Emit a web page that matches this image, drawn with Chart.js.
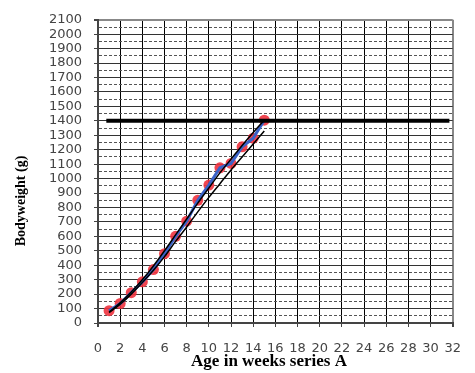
<!DOCTYPE html>
<html>
<head>
<meta charset="utf-8">
<script src="https://cdn.jsdelivr.net/npm/chart.js@4"></script>
<style>
  html, body { margin: 0; padding: 0; background: #fff; }
  canvas { display: block; }
</style>
</head>
<body>
<canvas id="chart" width="475" height="373"></canvas>
<script>
// valores
const semanas = [1, 2, 3, 4, 5, 6, 7, 8, 9, 10, 11, 12, 13, 14, 15];
const pesoCorporal = [85, 135, 210, 285, 370, 480, 600, 705, 850, 955, 1075, 1105, 1220, 1280, 1405];
const tendenciaA = [75, 140, 215, 300, 395, 500, 610, 720, 830, 935, 1040, 1135, 1230, 1320, 1405];
const tendenciaB = [72, 130, 200, 280, 365, 460, 565, 665, 770, 870, 965, 1060, 1150, 1240, 1330];
const linhaRefX = [0.75, 31.7];
const linhaRefY = 1400;

const xTickLabels = [0, 2, 4, 6, 8, 10, 12, 14, 16, 18, 20, 22, 24, 26, 28, 30, 32];
const yTickLabels = [0, 100, 200, 300, 400, 500, 600, 700, 800, 900, 1000, 1100, 1200, 1300, 1400, 1500, 1600, 1700, 1800, 1900, 2000, 2100];

const tituloX = 'Age in weeks series A';
const tituloY = 'Bodyweight (g)';

function pontos(xs, ys) {
  return xs.map((x, i) => ({ x: x, y: ys[i] }));
}

// ticks do eixo y: rotulos a cada 100 e linhas tracejadas no meio
function ticksY() {
  const out = [];
  yTickLabels.forEach((v, i) => {
    out.push({ value: v, major: true });
    if (i < yTickLabels.length - 1) out.push({ value: (v + yTickLabels[i + 1]) / 2, major: false });
  });
  return out;
}

const titulosEixos = {
  id: 'titulosEixos',
  afterDraw(chart) {
    const ctx = chart.ctx;
    ctx.save();
    ctx.fillStyle = '#000';
    ctx.textAlign = 'center';
    ctx.textBaseline = 'middle';
    ctx.font = 'bold 17px "Liberation Serif"';
    ctx.fillText(tituloX, 269, 362);
    ctx.translate(21, 201);
    ctx.rotate(-Math.PI / 2);
    ctx.font = 'bold 14px "Liberation Serif"';
    ctx.fillText(tituloY, 0, 0);
    ctx.restore();
  }
};

const ctx = document.getElementById('chart').getContext('2d');
new Chart(ctx, {
  type: 'scatter',
  data: {
    datasets: [
      {
        label: 'ref',
        data: pontos(linhaRefX, [linhaRefY, linhaRefY]),
        showLine: true,
        borderColor: '#000',
        borderWidth: 4,
        pointRadius: 0,
        order: 0
      },
      {
        label: 'tendencia A',
        data: pontos(semanas, tendenciaA),
        showLine: true,
        borderColor: '#000',
        borderWidth: 1.5,
        pointRadius: 0,
        cubicInterpolationMode: 'monotone',
        order: 1
      },
      {
        label: 'tendencia B',
        data: pontos(semanas, tendenciaB),
        showLine: true,
        borderColor: '#000',
        borderWidth: 1.5,
        pointRadius: 0,
        cubicInterpolationMode: 'monotone',
        order: 2
      },
      {
        label: 'linha',
        data: pontos(semanas, pesoCorporal),
        showLine: true,
        borderColor: '#3a62c8',
        borderWidth: 3,
        pointRadius: 0,
        order: 3
      },
      {
        label: 'Bodyweight',
        data: pontos(semanas, pesoCorporal),
        showLine: false,
        pointRadius: 5.5,
        pointBackgroundColor: 'rgba(238, 50, 62, 0.9)',
        pointBorderWidth: 0,
        order: 4
      }
    ]
  },
  options: {
    responsive: false,
    animation: false,
    layout: { padding: { top: 14, right: 14, left: 0, bottom: 0 } },
    plugins: {
      legend: { display: false },
      tooltip: { enabled: false }
    },
    scales: {
      x: {
        type: 'linear',
        min: 0,
        max: 32,
        afterBuildTicks: (scale) => { scale.ticks = xTickLabels.map(v => ({ value: v })); },
        afterFit: (scale) => { scale.height = 50; },
        ticks: {
          autoSkip: false,
          maxRotation: 0,
          padding: 14,
          color: '#444',
          font: { family: '"DejaVu Sans"', size: 13 }
        },
        grid: {
          color: (c) => c.index === xTickLabels.length - 1 ? '#888' : (c.index === 0 ? '#444' : '#000'),
          lineWidth: (c) => c.index === 0 || c.index === xTickLabels.length - 1 ? 2 : 1,
          tickLength: 4,
          tickColor: '#444'
        },
        border: { color: '#444', width: 2 }
      },
      y: {
        type: 'linear',
        min: 0,
        max: 2100,
        afterBuildTicks: (scale) => { scale.ticks = ticksY(); },
        afterFit: (scale) => { scale.width = 98; },
        ticks: {
          autoSkip: false,
          padding: 12,
          color: '#444',
          font: { family: '"DejaVu Sans"', size: 13 },
          callback: (v) => (v % 100 === 0 ? String(v) : '')
        },
        grid: {
          color: (c) => {
            if (c.tick && c.tick.value === 2100) return '#888';
            return c.tick && c.tick.major ? '#333' : '#555';
          },
          lineWidth: (c) => (c.tick && c.tick.value === 2100 ? 2 : 1),
          tickLength: 4,
          tickColor: (c) => (c.tick && c.tick.major ? '#444' : 'rgba(0,0,0,0)')
        },
        border: {
          color: '#444',
          width: 2,
          dash: (c) => (c.tick && !c.tick.major ? [3, 2] : [])
        }
      }
    }
  },
  plugins: [titulosEixos]
});
</script>
</body>
</html>
